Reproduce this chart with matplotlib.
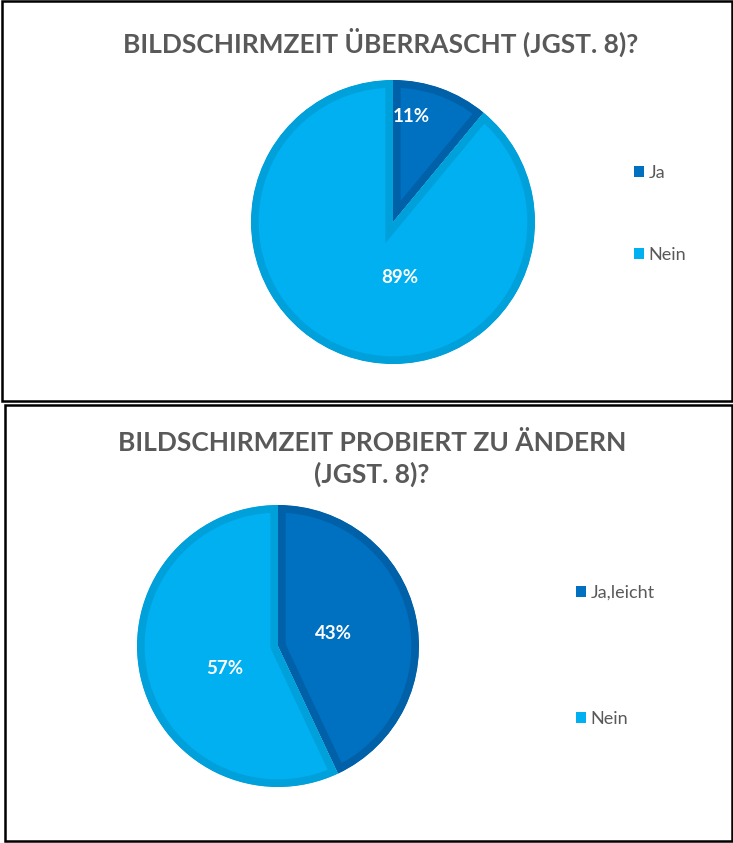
import matplotlib
matplotlib.use('Agg')
import matplotlib.pyplot as plt
from matplotlib.patches import Rectangle

plt.rcParams['font.family'] = ['Lato', 'DejaVu Sans']

# data
title_top = "BILDSCHIRMZEIT ÜBERRASCHT (JGST. 8)?"
labels_top = ["Ja", "Nein"]
values_top = [11, 89]

title_bottom = "BILDSCHIRMZEIT PROBIERT ZU ÄNDERN\n(JGST. 8)?"
labels_bottom = ["Ja,leicht", "Nein"]
values_bottom = [43, 57]

fill_colors = ['#0070C0', '#00B0F0']
edge_colors = ['#0061A9', '#00A0DB']
text_gray = '#595959'

W, H = 733, 843
fig = plt.figure(figsize=(W / 100, H / 100), dpi=100)


def px_axes(cx, cy, r):
    # axes box exactly around the pie, given in pixels from the top-left
    return fig.add_axes([(cx - r) / W, 1 - (cy + r) / H, 2 * r / W, 2 * r / H])


def draw_pie(ax, values, label_pos):
    wedges, _ = ax.pie(values, startangle=90, counterclock=False,
                       colors=fill_colors, radius=1)
    for w, ec in zip(wedges, edge_colors):
        # stroke only on the inside of each wedge
        w.set_edgecolor(ec)
        w.set_linewidth(11)
        w.set_clip_path(w)
        w.set_clip_on(True)
    ax.set_xlim(-1, 1)
    ax.set_ylim(-1, 1)
    ax.set_aspect('auto')
    ax.axis('off')
    for v, (x, y) in zip(values, label_pos):
        ax.text(x, y, f"{v}%", color='white', fontsize=13.5, fontweight='bold',
                ha='center', va='center')


def add_legend(labels, x, y, spacing):
    handles = [Rectangle((0, 0), 1, 1, facecolor=c, edgecolor='none')
               for c in fill_colors]
    fig.legend(handles, labels, loc='center left',
               bbox_to_anchor=(x / W, 1 - y / H), frameon=False,
               fontsize=13, labelcolor=text_gray, handlelength=0.55,
               handleheight=0.55, handletextpad=0.25, labelspacing=spacing,
               borderpad=0, borderaxespad=0)


# borders
fig.patches.append(Rectangle((2 / W, 1 - 401 / H), 730 / W, 400 / H,
                             transform=fig.transFigure, fill=False,
                             edgecolor='black', linewidth=1.8))
fig.patches.append(Rectangle((5 / W, 1 - 841 / H), 727 / W, 436 / H,
                             transform=fig.transFigure, fill=False,
                             edgecolor='black', linewidth=1.8))

# top chart
ax1 = px_axes(393, 222, 142)
draw_pie(ax1, values_top, [(0.13, 0.74), (0.05, -0.39)])
fig.text(381 / W, 1 - 42 / H, title_top, ha='center', va='center',
         fontsize=19, fontweight='bold', color=text_gray)
add_legend(labels_top, 634, 214, 3.65)

# bottom chart
ax2 = px_axes(278, 646, 141)
draw_pie(ax2, values_bottom, [(0.39, 0.09), (-0.38, -0.16)])
fig.text(372 / W, 1 - 459 / H, title_bottom, ha='center', va='center',
         fontsize=19, fontweight='bold', color=text_gray, linespacing=1.3)
add_legend(labels_bottom, 576, 656, 6.1)

fig.savefig('out.png', dpi=100)
